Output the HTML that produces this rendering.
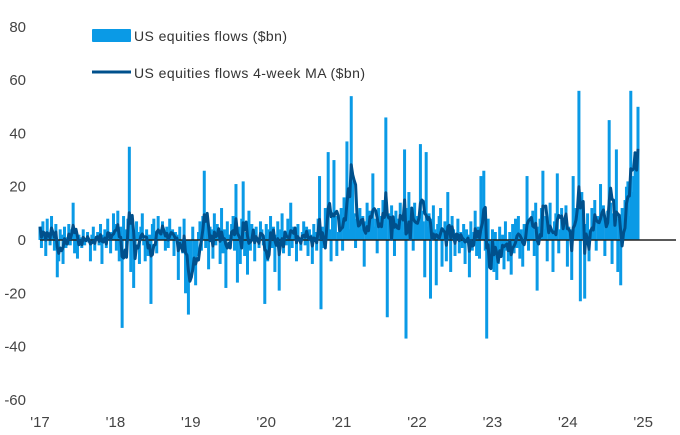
<!DOCTYPE html>
<html><head><meta charset="utf-8"><style>
html,body{margin:0;padding:0;background:#fff}
svg{display:block;font-family:"Liberation Sans",sans-serif}
</style></head><body>
<svg id="chart" width="680" height="435" viewBox="0 0 680 435">
<g id="yaxis"></g>
<g id="xaxis"></g>
<g id="bars"></g>
<line x1="40" y1="240" x2="676" y2="240" stroke="#222" stroke-width="1.6"/>
<path id="ma" fill="none" stroke="#00508c" stroke-width="3" stroke-linejoin="round"/>
<g>
<rect x="92" y="29" width="39" height="13" rx="1" fill="#0a9ae6"/>
<text x="134" y="41" font-size="14" fill="#333" textLength="153">US equities flows ($bn)</text>
<line x1="92" y1="72" x2="131" y2="72" stroke="#00508c" stroke-width="3"/>
<text x="134" y="78" font-size="14" fill="#333" textLength="231">US equities flows 4-week MA ($bn)</text>
</g>
</svg>
<script>
const yTicks=[80,60,40,20,0,-20,-40,-60];
const xTickLabels=["'17","'18","'19","'20","'21","'22","'23","'24","'25"];
const flows=[
5,-3,7,2,-6,8,3,-2,9,1,-4,6,-14,-8,4,2,-9,5,-3,1,6,-2,4,14,-5,3,-7,2,1,-3,4,-2,0,3,-1,-8,2,5,-4,1,3,-2,6,-9,2,4,-3,8,1,-5,3,10,
6,-4,11,-8,5,-33,9,4,-6,8,35,-12,6,-18,-4,7,3,-9,5,10,-2,-8,4,-6,2,-24,6,8,3,-5,9,4,1,7,2,-4,5,-3,8,1,4,-6,3,2,-15,5,-2,-5,8,-20,-6,-28,
-8,-14,5,-10,-17,-6,3,7,-4,9,26,-3,8,-11,5,4,-7,10,-2,6,3,-9,12,-5,4,-18,7,2,-3,6,9,-4,21,-16,5,-9,8,22,-6,3,-13,11,-4,6,2,-8,5,1,-3,7,4,-2,
-24,6,-8,4,9,-3,5,-12,2,7,-19,4,10,-5,3,-2,8,-6,14,-3,5,2,-8,6,1,-4,3,7,-2,5,-6,4,2,-9,6,3,-4,8,24,-26,5,-3,12,6,33,4,-8,10,30,9,-6,3,
8,12,-4,16,6,37,18,4,54,22,10,-3,8,6,12,4,9,-10,7,14,3,11,6,25,5,8,-5,12,9,4,15,6,46,-29,10,7,13,5,-6,11,8,4,14,9,3,34,-37,12,18,8,10,-4,
14,6,9,4,36,11,7,-14,33,5,10,-22,8,13,4,-17,6,9,12,-10,3,7,-8,18,5,-12,9,4,-6,2,8,-5,3,-3,6,-9,4,2,-14,7,-4,3,11,-6,5,-7,24,3,26,-4,-37,8,
-8,-6,4,-12,3,-15,-9,5,-6,2,-11,7,-4,-8,3,-13,6,-5,8,-3,9,-7,4,-10,6,3,24,-4,8,6,11,-6,14,-19,5,8,12,26,4,9,-8,6,14,3,-12,7,10,25,-5,4,12,6,
8,13,-10,5,4,-15,24,9,12,3,56,-23,18,7,-22,6,10,-8,4,12,7,15,-4,9,6,21,5,13,-6,8,11,45,14,-9,10,7,34,-12,8,-17,12,8,15,20,22,9,56,18,24,33,30,50
];
const NS="http://www.w3.org/2000/svg";
const X0=40,YEAR=75.4,WEEK=(638-X0)/(flows.length-1);
function yS(v){return 240-v*2.664;}
function xS(i){return X0+i*WEEK;}
const yg=document.getElementById('yaxis');
yTicks.forEach(v=>{const t=document.createElementNS(NS,'text');
t.setAttribute('x',26);t.setAttribute('y',yS(v)+5);t.setAttribute('text-anchor','end');t.setAttribute('font-size','15');t.setAttribute('fill','#444');t.textContent=v;


yg.appendChild(t);});
const xg=document.getElementById('xaxis');
xTickLabels.forEach((l,k)=>{const t=document.createElementNS(NS,'text');
t.setAttribute('x',X0+k*YEAR);t.setAttribute('y',427);t.setAttribute('text-anchor','middle');t.setAttribute('font-size','15');t.setAttribute('fill','#444');t.textContent=l;


xg.appendChild(t);});
const bg=document.getElementById('bars');
flows.forEach((v,i)=>{const r=document.createElementNS(NS,'rect');
const y=Math.min(yS(v),240),h=Math.abs(yS(v)-240);
r.setAttribute('x',xS(i)-1.5);r.setAttribute('y',y);r.setAttribute('width',3);r.setAttribute('height',Math.max(h,0.5));r.setAttribute('fill','#0a9ae6');


bg.appendChild(r);});
let d='';
flows.forEach((v,i)=>{const s=flows.slice(Math.max(0,i-3),i+1);const m=s.reduce((a,b)=>a+b,0)/s.length;
d+=(i?'L':'M')+xS(i).toFixed(1)+','+yS(m).toFixed(1);});
document.getElementById('ma').setAttribute('d',d);
</script>
</body></html>
